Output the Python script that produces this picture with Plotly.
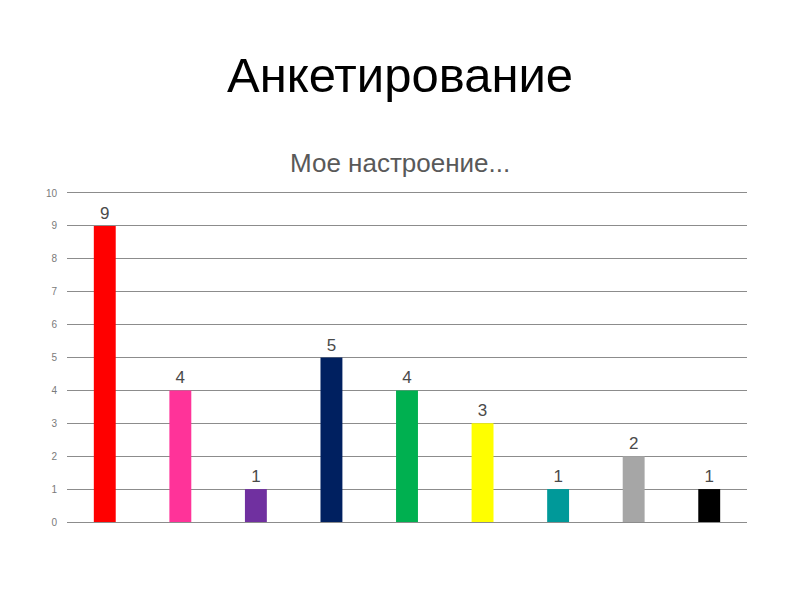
import plotly.graph_objects as go

categories = ["1", "2", "3", "4", "5", "6", "7", "8", "9"]
values = [9, 4, 1, 5, 4, 3, 1, 2, 1]
colors = ["#FF0000", "#FF3399", "#7030A0", "#002060", "#00B050",
          "#FFFF00", "#009999", "#A6A6A6", "#000000"]
tick_vals = list(range(0, 11))

FONT = "Liberation Sans, Arial, sans-serif"
# page is rendered with an 8px body margin, so compensate
L, T, R, B = 59, 185, 61, 86
GRID = "#8c8c8c"

fig = go.Figure()
fig.add_trace(go.Bar(
    x=categories, y=values,
    marker=dict(color=colors, line=dict(width=0)),
    width=0.29,
    text=[str(v) for v in values],
    textposition="outside",
    textfont=dict(family=FONT, size=17, color="#4a4a4a"),
    cliponaxis=False,
))

ph = 600 - T - B
pw = 800 - L - R

fig.update_layout(
    width=800, height=600,
    margin=dict(l=L, r=R, t=T, b=B),
    paper_bgcolor="white", plot_bgcolor="white",
    showlegend=False,
    xaxis=dict(showticklabels=False, showgrid=False, zeroline=False,
               showline=True, linecolor=GRID, linewidth=1, mirror=True,
               ticks=""),
    yaxis=dict(range=[0, 10], tickvals=tick_vals, showgrid=True, gridcolor=GRID,
               gridwidth=1, zeroline=False, showline=False, ticks="",
               tickfont=dict(family=FONT, size=10, color="#7a7a7a"),
               ticklabelstandoff=9),
    annotations=[
        dict(text="Анкетирование", xref="paper", yref="paper",
             x=(392 - L) / pw, y=(600 - B - 67) / ph, xanchor="center",
             yanchor="middle", showarrow=False,
             font=dict(family=FONT, size=49, color="#000000")),
        dict(text="Мое настроение...", xref="paper", yref="paper",
             x=(392 - L) / pw, y=(600 - B - 155) / ph, xanchor="center",
             yanchor="middle", showarrow=False,
             font=dict(family=FONT, size=26, color="#595959")),
    ],
)

fig.write_html("out.html")
